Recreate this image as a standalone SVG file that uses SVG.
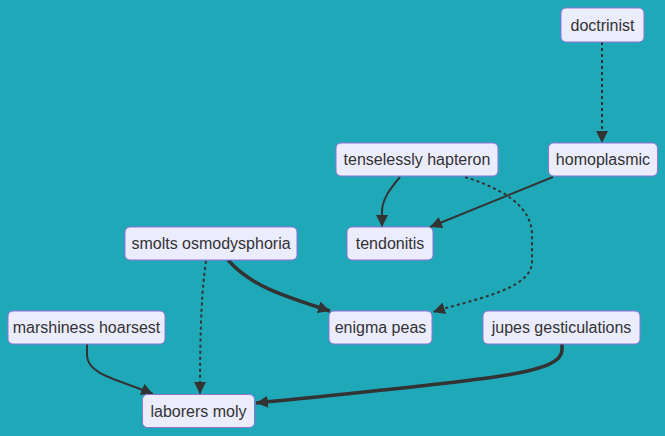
<svg xmlns="http://www.w3.org/2000/svg" width="665" height="436" viewBox="0 0 665 436">
<style>
.node rect{fill:#ECECFF;stroke:#9370DB;stroke-width:1}
.node text{font-family:"Liberation Sans",Arial,sans-serif;font-size:16px;fill:#333;text-anchor:middle;dominant-baseline:central}
.e{fill:none;stroke:#333;stroke-width:2}
.thick{stroke-width:3.5}
.dot{stroke-dasharray:3 3}
</style>
<defs>
<marker id="ah" viewBox="0 0 10 10" refX="10" refY="5" markerUnits="userSpaceOnUse" markerWidth="12" markerHeight="12" orient="auto">
<path d="M0,0 L10,5 L0,10 z" fill="#333"/>
</marker>
</defs>
<rect width="665" height="436" fill="#1FA9B8"/>
<g id="edges">
<path class="e dot" d="M602,42 L602,143" marker-end="url(#ah)"/>
<path class="e" d="M400,177 C389,190 382,200 382,212 L382,227" marker-end="url(#ah)"/>
<path class="e" d="M553,177 L430,227" marker-end="url(#ah)"/>
<path class="e dot" d="M465,177 C500,188 532,205 532,235 L532,262 C532,290 470,300 433,312" marker-end="url(#ah)"/>
<path class="e thick" d="M228,260 C250,285 280,295 330,311" marker-end="url(#ah)"/>
<path class="e dot" d="M206,261 C202,290 200,320 200,394" marker-end="url(#ah)"/>
<path class="e" d="M87,344 L87,355 C87,375 120,380 153,394" marker-end="url(#ah)"/>
<path class="e thick" d="M562,344 L562,350 C562,375 480,380 256,403" marker-end="url(#ah)"/>
</g>
<g id="doctrinist" class="node"><rect x="561" y="8" width="83" height="34" rx="5"/><text x="602.5" y="25">doctrinist</text></g>
<g id="homoplasmic" class="node"><rect x="548.5" y="143" width="109" height="33" rx="5"/><text x="603" y="159.5">homoplasmic</text></g>
<g id="tenselessly_hapteron" class="node"><rect x="336" y="143" width="162" height="33" rx="5"/><text x="417" y="159.5">tenselessly hapteron</text></g>
<g id="tendonitis" class="node"><rect x="347" y="227" width="86" height="33" rx="5"/><text x="390" y="243.5">tendonitis</text></g>
<g id="smolts_osmodysphoria" class="node"><rect x="125" y="227" width="172" height="33" rx="5"/><text x="211" y="243.5">smolts osmodysphoria</text></g>
<g id="marshiness_hoarsest" class="node"><rect x="8" y="311" width="157" height="33" rx="5"/><text x="86.5" y="327.5">marshiness hoarsest</text></g>
<g id="enigma_peas" class="node"><rect x="329" y="311" width="103" height="33" rx="5"/><text x="380.5" y="327.5">enigma peas</text></g>
<g id="jupes_gesticulations" class="node"><rect x="483" y="311" width="157" height="33" rx="5"/><text x="561.5" y="327.5">jupes gesticulations</text></g>
<g id="laborers_moly" class="node"><rect x="142.5" y="394.5" width="112" height="33" rx="5"/><text x="198.5" y="411">laborers moly</text></g>
</svg>
